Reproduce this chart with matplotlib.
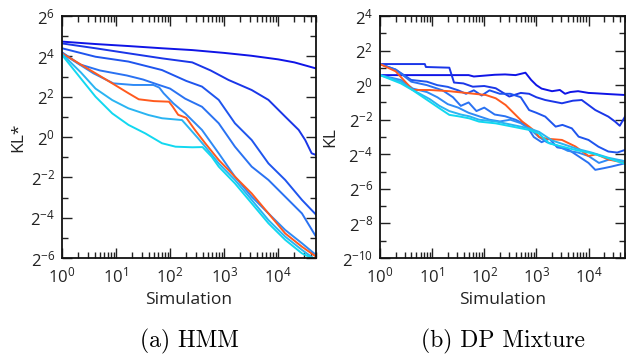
import numpy as np
import matplotlib
matplotlib.use("Agg")
import matplotlib.pyplot as plt
from matplotlib.ticker import FixedLocator, FuncFormatter, LogLocator, NullFormatter

plt.rcParams['font.family'] = ['Open Sans', 'DejaVu Sans']
plt.rcParams['mathtext.fontset'] = 'custom'
plt.rcParams['mathtext.rm'] = 'Open Sans'
plt.rcParams['mathtext.default'] = 'regular'
plt.rcParams['axes.unicode_minus'] = False

COLORS = ["#0f14e6", "#1a36e8", "#1f55ee", "#2a72f2", "#2f8af5", "#ff5a1e", "#2ab4f2", "#12d8f0"]

# curves are (log10 simulation, log2 value) pairs
hmm_a = [(0, 4.73), (0.62, 4.61), (1.23, 4.51), (1.85, 4.4), (2.41, 4.31), (3.0, 4.17), (3.5, 4.03),
         (4.0, 3.85), (4.3, 3.7), (4.5, 3.55), (4.7, 3.4)]
hmm_b = [(0, 4.64), (0.62, 4.4), (1.23, 4.15), (1.85, 3.9), (2.41, 3.7), (2.75, 3.3), (3.08, 2.83),
         (3.51, 2.33), (3.82, 1.84), (4.13, 1.01), (4.38, 0.35), (4.5, -0.15), (4.62, -0.81), (4.7, -0.89)]
hmm_c = [(0, 4.4), (0.62, 3.98), (1.23, 3.74), (1.85, 3.32), (2.3, 2.78), (2.59, 2.5), (2.9, 1.84),
         (3.2, 0.68), (3.51, -0.15), (3.82, -1.31), (4.13, -2.13), (4.44, -3.12), (4.7, -3.85)]
hmm_d = [(0, 4.2), (0.33, 3.6), (0.7, 3.3), (1.2, 3.05), (1.5, 2.85), (1.75, 2.62), (2.0, 2.4),
         (2.28, 1.9), (2.59, 1.5), (2.9, 0.68), (3.2, -0.48), (3.51, -1.47), (3.82, -2.13),
         (4.13, -2.96), (4.44, -3.79), (4.7, -4.94)]
hmm_e = [(0, 4.15), (0.58, 3.16), (0.95, 2.66), (1.32, 2.58), (1.69, 2.58), (1.8, 2.45), (1.88, 2.17),
         (2.06, 1.67), (2.28, 1.17), (2.59, 0.35), (2.9, -0.81), (3.2, -1.97), (3.51, -2.96),
         (3.82, -3.79), (4.13, -4.61), (4.44, -5.27), (4.7, -5.85)]
hmm_o = [(0, 4.15), (0.62, 3.16), (0.93, 2.66), (1.23, 2.17), (1.42, 1.87), (1.7, 1.78), (1.98, 1.75),
         (2.05, 1.5), (2.15, 1.1), (2.3, 0.95), (2.46, 0.35), (2.65, -0.31), (2.9, -1.14), (3.2, -1.97),
         (3.51, -2.8), (3.82, -3.79), (4.13, -4.78), (4.44, -5.44), (4.7, -5.93)]
hmm_f = [(0, 4.12), (0.35, 3.2), (0.62, 2.4), (0.93, 1.83), (1.23, 1.42), (1.6, 1.09), (1.85, 0.93),
         (2.22, 0.84), (2.3, 0.6), (2.52, -0.07), (2.65, -0.48), (2.9, -1.31), (3.2, -2.13),
         (3.51, -3.12), (3.82, -4.12), (4.13, -4.94), (4.44, -5.6), (4.7, -6.1)]
hmm_g = [(0, 4.07), (0.37, 2.83), (0.62, 2.0), (0.93, 1.17), (1.23, 0.6), (1.54, 0.18), (1.85, -0.31),
         (2.1, -0.48), (2.41, -0.51), (2.6, -0.5), (2.77, -0.98), (2.9, -1.47), (3.2, -2.3),
         (3.51, -3.29), (3.82, -4.28), (4.13, -5.1), (4.44, -5.77), (4.7, -6.1)]

dp_a = [(0, 0.58), (1.7, 0.58), (1.8, 0.5), (2.0, 0.55), (2.2, 0.6), (2.4, 0.62), (2.6, 0.58),
        (2.79, 0.72), (2.9, 0.3), (3.0, 0.0), (3.1, -0.2), (3.3, -0.35), (3.45, -0.28), (3.55, -0.5),
        (3.65, -0.4), (3.8, -0.35), (4.0, -0.45), (4.13, -0.47), (4.4, -0.52), (4.7, -0.57)]
dp_b = [(0, 1.22), (0.86, 1.22), (0.88, 1.05), (1.33, 1.01), (1.42, 0.15), (1.6, 0.1), (1.78, -0.09),
        (2.0, -0.05), (2.22, -0.18), (2.48, -0.66), (2.7, -0.45), (2.86, -0.5), (3.0, -0.7),
        (3.17, -0.86), (3.49, -1.05), (3.7, -0.9), (3.87, -0.86), (4.0, -1.15), (4.13, -1.44),
        (4.38, -1.82), (4.51, -2.11), (4.6, -2.35), (4.7, -1.82)]
dp_c = [(0, 1.22), (0.3, 0.9), (0.6, 0.3), (0.9, 0.2), (1.1, 0.0), (1.3, -0.1), (1.5, -0.3),
        (1.65, -0.5), (1.8, -0.3), (1.95, -0.6), (2.1, -0.3), (2.3, -0.5), (2.5, -0.5), (2.7, -0.7),
        (2.86, -1.44), (3.0, -1.6), (3.17, -1.82), (3.37, -2.4), (3.5, -2.3), (3.68, -2.5),
        (3.81, -2.98), (4.0, -3.17), (4.19, -3.56), (4.38, -3.84), (4.55, -3.9), (4.7, -3.75)]
dp_d = [(0, 1.22), (0.3, 0.9), (0.6, 0.2), (0.9, 0.0), (1.2, -0.3), (1.4, -0.7), (1.55, -1.2),
        (1.7, -1.0), (1.85, -1.5), (2.0, -1.3), (2.2, -1.7), (2.4, -1.8), (2.6, -2.0), (2.8, -2.3),
        (2.95, -3.0), (3.1, -3.3), (3.25, -3.1), (3.4, -3.6), (3.6, -3.7), (3.8, -4.1), (4.0, -4.5),
        (4.13, -4.9), (4.3, -4.8), (4.44, -4.71), (4.7, -4.52)]
dp_e = [(0, 0.58), (0.4, 0.3), (0.63, -0.2), (0.9, -0.4), (1.1, -0.7), (1.3, -1.1), (1.5, -1.3),
        (1.7, -1.6), (1.9, -1.8), (2.1, -2.0), (2.3, -2.1), (2.5, -2.0), (2.7, -2.2), (2.9, -2.6),
        (3.05, -3.0), (3.2, -3.3), (3.4, -3.5), (3.6, -3.8), (3.8, -3.9), (4.0, -4.1), (4.2, -4.5),
        (4.4, -4.3), (4.7, -4.4)]
dp_o = [(0, 1.22), (0.3, 0.8), (0.63, -0.28), (0.95, -0.28), (1.33, -0.35), (1.71, -0.47),
        (2.03, -0.57), (2.22, -0.76), (2.41, -1.15), (2.6, -1.72), (2.73, -2.11), (2.86, -2.4),
        (2.98, -2.69), (3.05, -3.0), (3.2, -3.1), (3.49, -3.17), (3.75, -3.55), (4.0, -4.1),
        (4.15, -4.0), (4.38, -4.3), (4.7, -4.5)]
dp_f = [(0, 0.58), (0.4, 0.2), (0.63, -0.28), (0.95, -0.8), (1.14, -1.2), (1.33, -1.5), (1.55, -1.7),
        (1.71, -1.8), (1.9, -2.0), (2.22, -2.1), (2.54, -2.3), (2.86, -2.5), (3.05, -2.7), (3.3, -3.2),
        (3.6, -3.5), (3.8, -3.7), (4.06, -3.9), (4.38, -4.2), (4.7, -4.4)]
dp_g = [(0, 0.58), (0.4, 0.1), (0.63, -0.3), (0.95, -0.95), (1.14, -1.34), (1.33, -1.72), (1.5, -1.8),
        (1.71, -1.92), (1.9, -2.11), (2.22, -2.21), (2.54, -2.4), (2.86, -2.59), (3.05, -2.8),
        (3.24, -3.36), (3.49, -3.55), (3.75, -3.75), (4.06, -3.94), (4.38, -4.23), (4.7, -4.55)]

hmm_curves = [hmm_a, hmm_b, hmm_c, hmm_d, hmm_e, hmm_o, hmm_f, hmm_g]
dp_curves = [dp_a, dp_b, dp_c, dp_d, dp_e, dp_o, dp_f, dp_g]

fig = plt.figure(figsize=(6.26, 3.58), dpi=100)
ax1 = fig.add_axes([62 / 626, 100 / 358, 254 / 626, 242 / 358])
ax2 = fig.add_axes([380 / 626, 100 / 358, 245 / 626, 242 / 358])


def style(ax, ylo, yhi, ylabel, caption):
    ax.set_xscale('log')
    ax.set_yscale('log', base=2)
    ax.set_xlim(1, 10 ** 4.7)
    ax.set_ylim(2.0 ** ylo, 2.0 ** yhi)
    ax.xaxis.set_major_locator(FixedLocator([10.0 ** k for k in range(0, 5)]))
    ax.xaxis.set_minor_locator(LogLocator(base=10, subs=np.arange(2, 10), numticks=20))
    ax.xaxis.set_minor_formatter(NullFormatter())
    ax.xaxis.set_major_formatter(FuncFormatter(lambda v, p: r'$10^{%d}$' % round(np.log10(v))))
    ax.yaxis.set_major_locator(FixedLocator([2.0 ** k for k in range(ylo, yhi + 1, 2)]))
    ax.yaxis.set_minor_locator(FixedLocator([2.0 ** k for k in range(ylo + 1, yhi, 2)]))
    ax.yaxis.set_minor_formatter(NullFormatter())
    ax.yaxis.set_major_formatter(FuncFormatter(lambda v, p: r'$2^{%d}$' % round(np.log2(v))))
    ax.tick_params(which='both', direction='in', top=True, right=True, width=1.0, color='#222222')
    ax.tick_params(which='major', length=7, labelsize=12, labelcolor='#222222')
    ax.tick_params(axis='x', which='major', pad=6)
    ax.tick_params(axis='y', which='major', pad=5)
    ax.tick_params(which='minor', length=4)
    for s in ax.spines.values():
        s.set_linewidth(1.3)
        s.set_color('#111111')
    ax.set_xlabel('Simulation', fontsize=12.5, labelpad=4, color='#222222')
    ax.set_ylabel(ylabel, fontsize=12.5, labelpad=3, color='#222222')
    ax.text(0.5, -0.346, caption, transform=ax.transAxes, ha='center', va='center',
            fontsize=17, family='cmr10')


for ax, curves in [(ax1, hmm_curves), (ax2, dp_curves)]:
    for pts, col in zip(curves, COLORS):
        xs = [10.0 ** p[0] for p in pts]
        ys = [2.0 ** p[1] for p in pts]
        ax.plot(xs, ys, color=col, lw=1.4, solid_joinstyle='round')

style(ax1, -6, 6, 'KL*', '(a) HMM')
style(ax2, -10, 4, 'KL', '(b) DP Mixture')

fig.savefig('out.png', dpi=100)
